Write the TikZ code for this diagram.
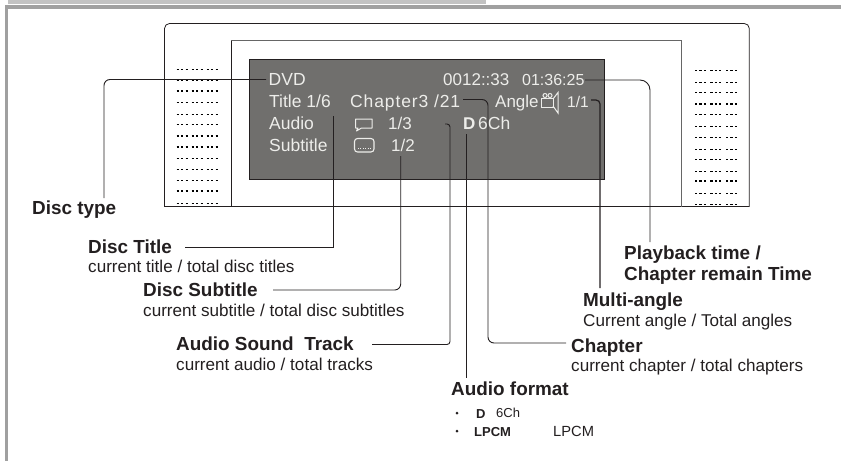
\documentclass[tikz,border=0pt]{standalone}
\usepackage{fontspec}
\setmainfont{Liberation Sans}
\newfontfamily\spreadfont[LetterSpace=5]{Liberation Sans}
\usetikzlibrary{positioning}
\definecolor{screengray}{HTML}{706F6D}
\definecolor{screentxt}{HTML}{EDEDEA}
\definecolor{bandlight}{HTML}{C2C2C2}
\definecolor{banddark}{HTML}{A0A0A0}
\definecolor{inkdark}{HTML}{231F20}
\tikzset{
  screentext/.style={anchor=base west,inner sep=0pt,text=screentxt,font=\fontsize{17.5}{20}\selectfont},
  screensmall/.style={screentext,font=\fontsize{17}{20}\selectfont},
  headlabel/.style={anchor=base west,inner sep=0pt,text=inkdark,font=\bfseries\fontsize{18.9}{22}\selectfont},
  sublabel/.style={anchor=base west,inner sep=0pt,text=inkdark,font=\fontsize{17.1}{20}\selectfont},
  leader/.style={draw=inkdark,line width=0.9pt,rounded corners=6pt},
  leaderbold/.style={draw=inkdark,line width=1.2pt,rounded corners=6pt},
  ventdots/.style={draw=black,line width=1.6pt,dash pattern=on 2.2pt off 2.2pt},
  iconline/.style={draw=screentxt,line width=1pt}
}
\begin{document}
\begin{tikzpicture}[x=1pt,y=-1pt]
        \useasboundingbox (0,0) rectangle (841,461);

        % page band and border
        \fill[bandlight] (8,0) rectangle (486,4);
        \fill[banddark] (5,5) rectangle (841,8.5);
        \fill[banddark] (5,5) rectangle (8,461);

        % player front
        \draw[inkdark,line width=0.8pt,rounded corners=5pt] (164.5,206.8) -- (164.5,23.5) -- (749.3,23.5) -- (749.3,206.8);
        \draw[inkdark,line width=0.8pt] (164.5,206.8) -- (749.3,206.8);
        \draw[black!60,line width=0.8pt] (231.7,206.8) -- (231.7,40.7) -- (681,40.7) -- (681,206.8);
        \draw[inkdark,line width=0.8pt] (231.7,40.7) -- (231.7,206.8);
        \filldraw[fill=screengray,draw=inkdark,line width=0.7pt] (249.3,59.3) rectangle (604.3,179.3);

        % speaker holes
        \foreach \y in {69.3,80.3,90.7,102.3,114.3,124.3,136,146.7,158.3,169.3,180.3,190.7,203.3}
          \foreach \x in {176.7,191.7,206.7}
            \draw[ventdots] (\x,\y) -- ++(11,0);
        \foreach \y in {70.3,82.3,92.3,104,114.3,126.3,137.3,149.3,159.3,171.3,181,193.3,204.3}
          \foreach \x in {695,710.3,726}
            \draw[ventdots] (\x,\y) -- ++(11,0);

        % screen texts
        \node[screentext] (dvd) at (268.5,85) {DVD};
        \node[screensmall] (counter) at (443,85) {0012::33};
        \node[screentext,font=\fontsize{16}{18}\selectfont] (clock) at (522,85) {01:36:25};
        \node[screentext] (title) at (269,107) {Title 1/6};
        \node[screentext,font=\spreadfont\fontsize{17.5}{20}\selectfont] (chapter) at (350,107) {Chapter3 /21};
        \node[screensmall] (angle) at (495,107) {Angle};
        \node[screentext,font=\fontsize{15.5}{18}\selectfont] (anglenum) at (567,107) {1/1};
        \node[screentext] (audio) at (269,129) {Audio};
        \node[screensmall] (audionum) at (388,129) {1/3};
        \node[screentext,font=\bfseries\fontsize{17}{20}\selectfont] (dolby) at (463,129) {D};
        \node[screentext] (channels) at (478,129) {6Ch};
        \node[screentext] (subtitle) at (269,151) {Subtitle};
        \node[screensmall] (subnum) at (391,151) {1/2};

        % screen icons
        \draw[iconline,line join=round] (355.5,119) -- (372,119) -- (372,128) -- (361.5,128) -- (356.5,131) -- (358,128) -- (355.5,128) -- cycle;
        \draw[iconline,line width=1.1pt,rounded corners=3pt] (354.5,138.5) rectangle (374,152);
        \draw[screentxt,line width=0.9pt,dash pattern=on 1pt off 1.4pt] (358,148.5) -- (371,148.5);
        \draw[iconline] (541,98) -- (553,98) -- (553,107) -- (541,107) -- cycle;
        \draw[iconline] (553,99) -- (558,92.5) -- (558,113) -- (553,106);
        \draw[iconline] (545,95.5) circle[radius=2];
        \draw[iconline] (550,95.5) circle[radius=2];

        % labels
        \node[headlabel] (disctype) at (32,214) {Disc type};
        \node[headlabel] (disctitle) at (88,253) {Disc Title};
        \node[sublabel] (disctitlesub) at (88,272.7) {current title / total disc titles};
        \node[headlabel] (discsubtitle) at (143,296.7) {Disc Subtitle};
        \node[sublabel] (discsubtitlesub) at (143,316.7) {current subtitle / total disc subtitles};
        \node[headlabel] (soundtrack) at (176,350) {Audio Sound\ \ Track};
        \node[sublabel] (soundtracksub) at (176,370) {current audio / total tracks};
        \node[headlabel] (playback) at (624,259) {Playback time /};
        \node[headlabel] (remain) at (624,280) {Chapter remain Time};
        \node[headlabel] (multiangle) at (583,306) {Multi-angle};
        \node[sublabel] (multianglesub) at (583,326) {Current angle / Total angles};
        \node[headlabel] (chapterhead) at (571,352) {Chapter};
        \node[sublabel] (chaptersub) at (571,371) {current chapter / total chapters};
        \node[headlabel] (format) at (451,395) {Audio format};
        \node[anchor=base west,inner sep=0pt,text=inkdark,font=\bfseries\fontsize{13}{15}\selectfont] (formatd) at (476,418) {D};
        \node[anchor=base west,inner sep=0pt,text=inkdark,font=\fontsize{13}{15}\selectfont] (formatch) at (496,417) {6Ch};
        \node[anchor=base west,inner sep=0pt,text=inkdark,font=\bfseries\fontsize{13}{15}\selectfont] (formatpcm) at (474,436) {LPCM};
        \node[anchor=base west,inner sep=0pt,text=inkdark,font=\fontsize{14.7}{17}\selectfont] (formatname) at (553,436) {LPCM};
        \fill[inkdark] (457,413) circle[radius=1.5pt];
        \fill[inkdark] (457,431) circle[radius=1.5pt];

        % leader ends
        \coordinate (DVDend) at (266,79.5);
        \coordinate (DTend) at (104,198);
        \coordinate (TIend) at (333,116);
        \coordinate (TIlab) at (185,247);
        \coordinate (SUend) at (400.7,156);
        \coordinate (SUlab) at (273,290);
        \coordinate (AUend) at (445,124);
        \coordinate (AUlab) at (372,344.5);
        \coordinate (FOend) at (466,134);
        \coordinate (FOlab) at (466,378);
        \coordinate (CHend) at (463,99.5);
        \coordinate (CHlab) at (566,343);
        \coordinate (ANend) at (591,100);
        \coordinate (ANlab) at (600,288);
        \coordinate (PLend) at (585,80);
        \coordinate (PLlab) at (650,242);

        \draw[leader] (DVDend) -| (DTend);
        \draw[leader,rounded corners=0pt] (TIend) |- (TIlab);
        \draw[leader] (SUend) |- (SUlab);
        \draw[leader,rounded corners=3pt] (AUend) -- (450,124) -- (450,344.5) -- (AUlab);
        \draw[leader] (FOend) -- (FOlab);
        \draw[leader] (CHend) -- (488,99.5) -- (488,343) -- (CHlab);
        \draw[leaderbold,rounded corners=4pt] (ANend) -| (ANlab);
        \draw[leader,rounded corners=10pt] (PLend) -| (PLlab);

    \end{tikzpicture}
\end{document}
